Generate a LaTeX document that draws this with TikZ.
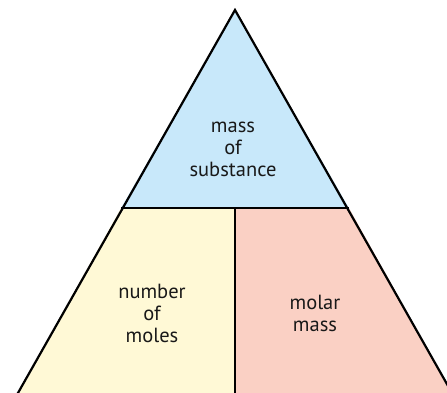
\documentclass[tikz,border=0pt]{standalone}
\usepackage{fontspec}
\setmainfont{PT Sans}
\definecolor{topblue}{RGB}{200,232,250}
\definecolor{leftyellow}{RGB}{255,249,214}
\definecolor{rightpink}{RGB}{250,208,196}
\tikzset{
  region/.style={draw=black, line width=2.2pt, line join=miter},
  label/.style={align=center, font=\fontsize{20.5}{22}\selectfont, text=black!90, inner sep=0pt}
}
\begin{document}
\begin{tikzpicture}[x=1pt,y=-1pt]
\useasboundingbox (0,0) rectangle (447,392);
\clip (0,0) rectangle (447,392);
\coordinate (apex) at (235,10);
\coordinate (ml) at (121,208);
\coordinate (mr) at (349,208);
\coordinate (mc) at (235,208);
\coordinate (bl2) at (14,400);
\coordinate (br2) at (456,400);
\coordinate (bc2) at (235,400);
\fill[topblue] (apex) -- (mr) -- (ml) -- cycle;
\fill[leftyellow] (ml) -- (mc) -- (bc2) -- (bl2) -- cycle;
\fill[rightpink] (mc) -- (mr) -- (br2) -- (bc2) -- cycle;
\draw[region] (bl2) -- (apex) -- (br2);
\draw[region] (ml) -- (mr);
\draw[region] (mc) -- (bc2);
\node[label] (top) at (233,149) {mass\\of\\substance};
\node[label] (left) at (152,313) {number\\of\\moles};
\node[label] (right) at (315,313) {molar\\mass};
\end{tikzpicture}
\end{document}
